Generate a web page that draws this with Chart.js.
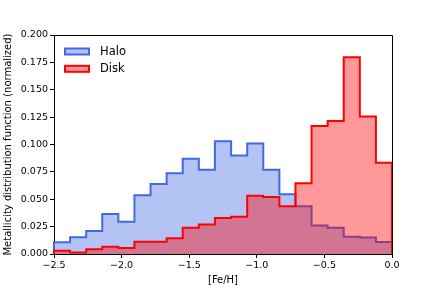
<!DOCTYPE html>
<html>
<head>
<meta charset="utf-8">
<script src="https://cdn.jsdelivr.net/npm/chart.js@4/dist/chart.umd.min.js"></script>
<style>
  html, body { margin: 0; padding: 0; background: #fff; }
  #wrap { width: 436px; height: 291px; }
</style>
</head>
<body>
<div id="wrap"><canvas id="mdfChart" width="436" height="291"></canvas></div>
<script>
// bin edges of the [Fe/H] histogram (21 bins between -2.5 and 0)
const binEdges = [-2.5, -2.381, -2.262, -2.143, -2.024, -1.905, -1.786, -1.667, -1.548, -1.429,
    -1.310, -1.190, -1.071, -0.952, -0.833, -0.714, -0.595, -0.476, -0.357, -0.238, -0.119, 0];

const haloValues = [0.0107, 0.0152, 0.021, 0.0365, 0.0295, 0.0536, 0.064, 0.0737, 0.087, 0.077,
    0.103, 0.090, 0.101, 0.077, 0.0545, 0.0435, 0.026, 0.024, 0.0158, 0.015, 0.011];
const diskValues = [0.003, 0.0013, 0.0043, 0.0067, 0.0055, 0.0112, 0.0112, 0.0143, 0.024, 0.027,
    0.0328, 0.034, 0.0533, 0.052, 0.0437, 0.0645, 0.117, 0.1215, 0.1796, 0.1255, 0.0834];

const xTicks = [-2.5, -2.0, -1.5, -1.0, -0.5, 0.0];
const yTicks = [0, 0.025, 0.05, 0.075, 0.1, 0.125, 0.15, 0.175, 0.2];

const FONT = 'DejaVu Sans';

// turn bin values into step points (value i holds from edge i to edge i+1)
function stepPoints(values) {
    const pts = [{x: binEdges[0], y: 0}];
    values.forEach((v, i) => pts.push({x: binEdges[i], y: v}));
    pts.push({x: binEdges[binEdges.length - 1], y: 0});
    return pts;
}

// legend drawn inside the plot, top left, like matplotlib
const insideLegend = {
    id: 'insideLegend',
    afterDraw(chart) {
        const ctx = chart.ctx;
        const a = chart.chartArea;
        ctx.save();
        chart.data.datasets.slice().sort((p, q) => p.legendIndex - q.legendIndex).forEach((ds, i) => {
            const y = a.top + 16.5 + i * 17.3;
            ctx.fillStyle = '#fff';
            ctx.fillRect(a.left + 11, y - 3, 24, 6);
            ctx.fillStyle = ds.backgroundColor;
            ctx.fillRect(a.left + 11, y - 3, 24, 6);
            ctx.strokeStyle = ds.borderColor;
            ctx.lineWidth = 2;
            ctx.strokeRect(a.left + 11, y - 3, 24, 6);
            ctx.fillStyle = '#000';
            ctx.font = '11.5px "' + FONT + '"';
            ctx.textBaseline = 'middle';
            ctx.fillText(ds.label, a.left + 46, y + 0.5);
        });
        ctx.restore();
    }
};

// top and right spines
const frameBox = {
    id: 'frameBox',
    afterDraw(chart) {
        const ctx = chart.ctx;
        const a = chart.chartArea;
        ctx.save();
        ctx.strokeStyle = '#000';
        ctx.lineWidth = 1;
        ctx.beginPath();
        ctx.moveTo(a.left, a.top + 0.5);
        ctx.lineTo(a.right + 0.5, a.top + 0.5);
        ctx.lineTo(a.right + 0.5, a.bottom);
        ctx.stroke();
        ctx.restore();
    }
};

new Chart(document.getElementById('mdfChart').getContext('2d'), {
    type: 'line',
    data: {
        datasets: [{
            label: 'Halo',
            legendIndex: 0,
            data: stepPoints(haloValues),
            stepped: 'before',
            borderColor: '#4169e1',
            backgroundColor: 'rgba(65, 105, 225, 0.4)',
            borderWidth: 2,
            pointRadius: 0,
            fill: 'origin',
            order: 2,
            clip: 2
        }, {
            label: 'Disk',
            legendIndex: 1,
            data: stepPoints(diskValues),
            stepped: 'before',
            borderColor: '#ff0000',
            backgroundColor: 'rgba(255, 0, 0, 0.4)',
            borderWidth: 2,
            pointRadius: 0,
            fill: 'origin',
            order: 1,
            clip: 2
        }]
    },
    options: {
        responsive: false,
        animation: false,
        devicePixelRatio: 1,
        layout: { padding: { top: 35, right: 44, left: 0, bottom: 0 } },
        plugins: {
            legend: { display: false },
            tooltip: { enabled: false }
        },
        scales: {
            x: {
                type: 'linear',
                min: -2.5,
                max: 0,
                afterBuildTicks: s => { s.ticks = xTicks.map(v => ({value: v})); },
                afterFit: s => { s.height = 37; },
                ticks: {
                    color: '#000',
                    font: { family: FONT, size: 9.5 },
                    padding: 2,
                    maxRotation: 0,
                    callback: v => v.toFixed(1).replace('-', '\u2212')
                },
                grid: { drawOnChartArea: false, drawTicks: true, tickLength: 4, color: '#000' },
                border: { color: '#000', width: 1 },
                title: {
                    display: true,
                    text: '[Fe/H]',
                    color: '#000',
                    font: { family: FONT, size: 10 },
                    padding: { top: 2, bottom: 5 }
                }
            },
            y: {
                min: 0,
                max: 0.2,
                afterBuildTicks: s => { s.ticks = yTicks.map(v => ({value: v})); },
                afterFit: s => { s.width = 54; },
                ticks: {
                    color: '#000',
                    font: { family: FONT, size: 9.5 },
                    padding: 2,
                    callback: v => v.toFixed(3)
                },
                grid: { drawOnChartArea: false, drawTicks: true, tickLength: 4, color: '#000' },
                border: { color: '#000', width: 1 },
                title: {
                    display: true,
                    text: 'Metallicity distribution function (normalized)',
                    color: '#000',
                    font: { family: FONT, size: 10 },
                    padding: { top: 2, bottom: 2 }
                }
            }
        }
    },
    plugins: [insideLegend, frameBox]
});
</script>
</body>
</html>
